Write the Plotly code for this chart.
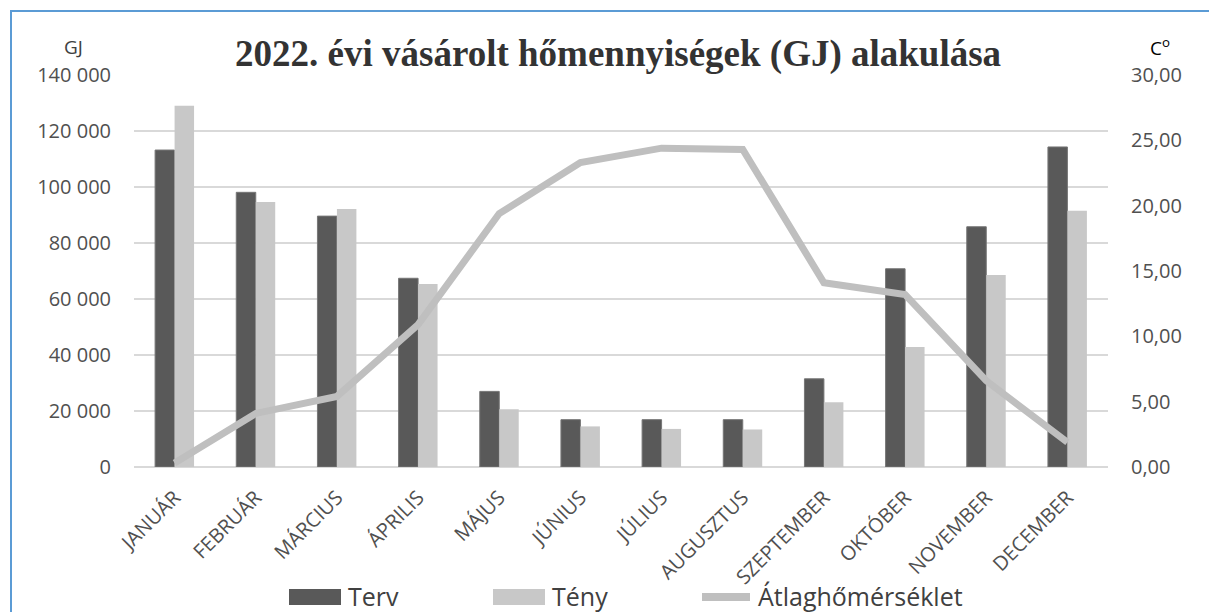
import plotly.graph_objects as go

months = ["JANUÁR", "FEBRUÁR", "MÁRCIUS", "ÁPRILIS", "MÁJUS", "JÚNIUS",
          "JÚLIUS", "AUGUSZTUS", "SZEPTEMBER", "OKTÓBER", "NOVEMBER", "DECEMBER"]
terv = [113200, 98100, 89600, 67400, 27000, 16900, 16900, 16900, 31500, 70800, 85800, 114300]
teny = [129000, 94600, 92100, 65400, 20600, 14500, 13600, 13400, 23100, 42900, 68600, 91500]
temp = [0.3, 4.1, 5.4, 10.9, 19.4, 23.3, 24.4, 24.3, 14.1, 13.2, 6.6, 1.9]

W, H = 1209, 612
L, R, T, B = 134, 1108, 75, 467

def px(x):
    return (x - L) / (R - L)

def py(y):
    return (B - y) / (B - T)

fig = go.Figure()
fig.add_trace(go.Bar(x=months, y=terv, name="Terv", marker=dict(color="#595959", line=dict(color="#767676", width=1)), showlegend=False))
fig.add_trace(go.Bar(x=months, y=teny, name="Tény", marker=dict(color="#c8c8c8", line=dict(width=0)), showlegend=False))
fig.add_trace(go.Scatter(x=months, y=temp, name="Átlaghőmérséklet", mode="lines", yaxis="y2",
                         line=dict(color="#bfbfbf", width=7), showlegend=False))

tick_font = dict(family="Open Sans", size=20, color="#505050")

fig.update_layout(
    width=W, height=H,
    margin=dict(l=L, r=W - R, t=T, b=H - B),
    paper_bgcolor="white", plot_bgcolor="white",
    separators=", ",
    barmode="group", bargap=0.52, bargroupgap=0,
    title=dict(text="2022. évi vásárolt hőmennyiségek (GJ) alakulása",
               font=dict(family="Liberation Serif", size=37, color="#333333", weight="bold"),
               x=0.497, xref="paper", xanchor="center", y=1 - 53 / H, yref="container", yanchor="middle"),
    xaxis=dict(type="category", tickangle=-45, tickfont=tick_font, showgrid=False,
               ticks="", showline=False, ticklabelstandoff=14),
    yaxis=dict(range=[0, 140000], dtick=20000, tickformat=",d", tickfont=tick_font,
               showgrid=True, gridcolor="#d9d9d9", gridwidth=1.5, zeroline=True,
               zerolinecolor="#d9d9d9", zerolinewidth=1.5, showline=False, ticks="",
               ticklabelstandoff=22),
    yaxis2=dict(range=[0, 30], dtick=5, tickformat=".2f", tickfont=tick_font, overlaying="y",
                side="right", showgrid=False, zeroline=False, showline=False, ticks="",
                ticklabelstandoff=22),
    showlegend=False,
)

shapes = [
    dict(type="rect", xref="paper", yref="paper", x0=px(11), x1=px(1230), y0=py(11), y1=py(640),
         line=dict(color="#5b9bd5", width=2), fillcolor="rgba(0,0,0,0)", layer="below"),
    dict(type="rect", xref="paper", yref="paper", x0=px(289), x1=px(341), y0=py(605), y1=py(589),
         line=dict(width=0), fillcolor="#595959"),
    dict(type="rect", xref="paper", yref="paper", x0=px(493), x1=px(545), y0=py(605), y1=py(589),
         line=dict(width=0), fillcolor="#c8c8c8"),
    dict(type="line", xref="paper", yref="paper", x0=px(702), x1=px(750), y0=py(597), y1=py(597),
         line=dict(color="#bfbfbf", width=8)),
]
fig.update_layout(shapes=shapes)

leg_font = dict(family="Open Sans", size=25, color="#404040")
ann = [
    dict(text="Terv", x=px(346), y=py(596), xref="paper", yref="paper", xanchor="left", yanchor="middle", showarrow=False, font=leg_font),
    dict(text="Tény", x=px(550), y=py(596), xref="paper", yref="paper", xanchor="left", yanchor="middle", showarrow=False, font=leg_font),
    dict(text="Átlaghőmérséklet", x=px(756), y=py(596), xref="paper", yref="paper", xanchor="left", yanchor="middle", showarrow=False, font=leg_font),
    dict(text="GJ", x=px(73), y=py(47), xref="paper", yref="paper", xanchor="center", yanchor="middle", showarrow=False,
         font=dict(family="Open Sans", size=19, color="#404040")),
    dict(text="C<sup>o</sup>", x=px(1160), y=py(47), xref="paper", yref="paper", xanchor="center", yanchor="middle", showarrow=False,
         font=dict(family="Open Sans", size=19, color="#000000")),
]
fig.update_layout(annotations=ann)

fig.write_html("out.html", config={"displayModeBar": False},
               post_script="document.body.style.margin='0';")
